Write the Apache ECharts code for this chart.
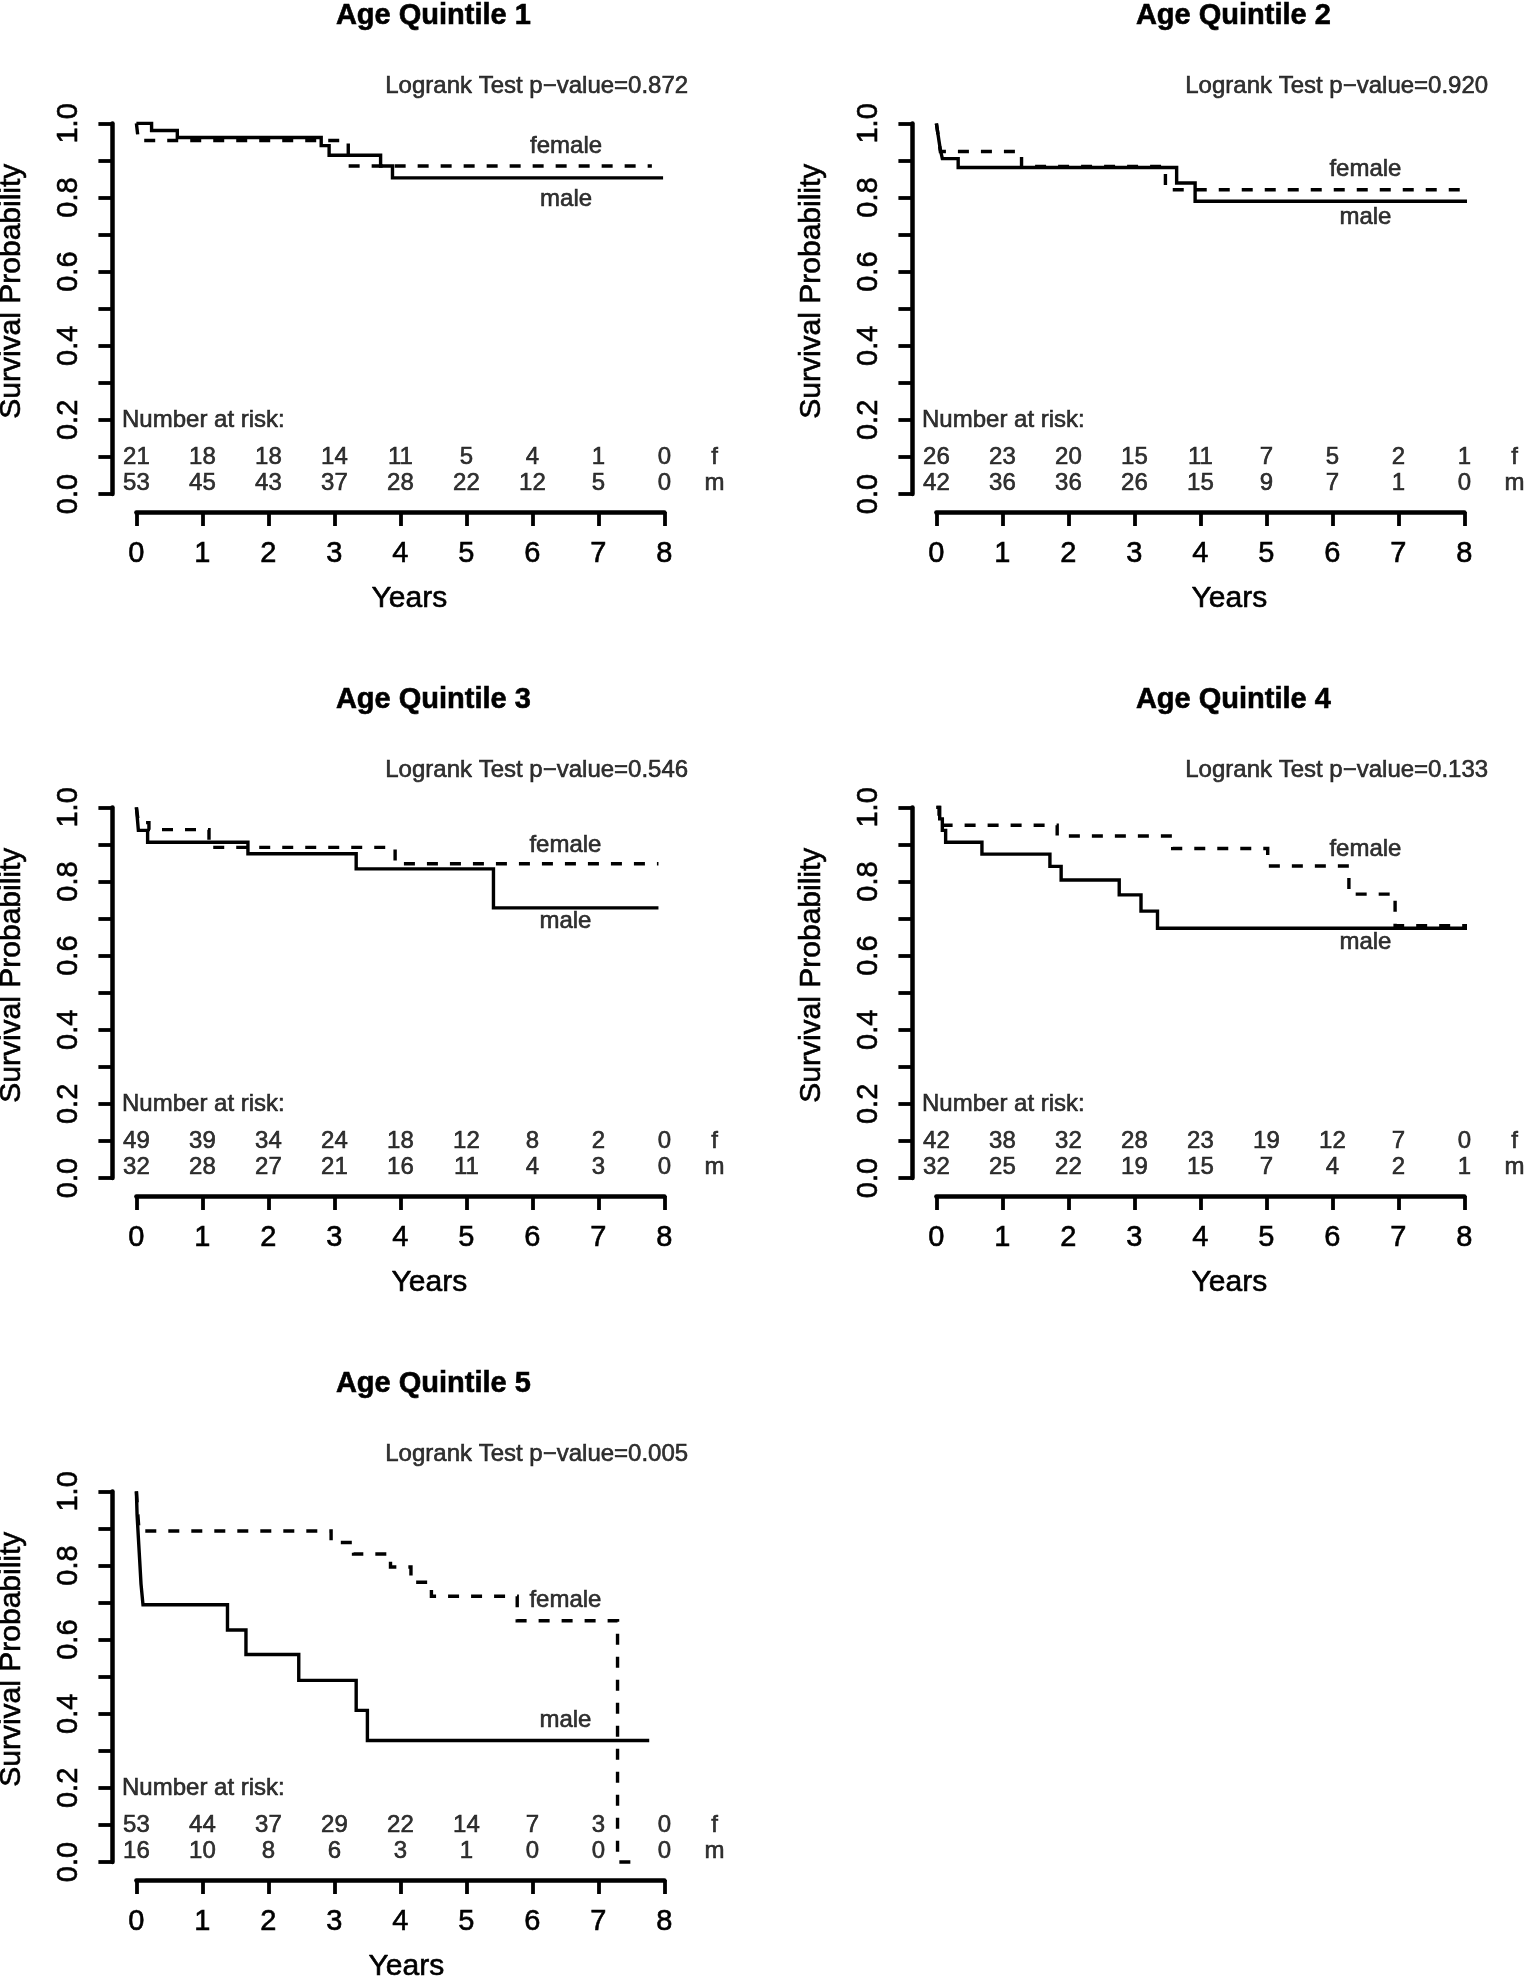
<!DOCTYPE html>
<html>
<head>
<meta charset="utf-8">
<script src="https://cdn.jsdelivr.net/npm/echarts@6/dist/echarts.min.js"></script>
<style>
html,body{margin:0;padding:0;background:#fff;}
#c{width:1524px;height:1978px;}
</style>
</head>
<body>
<div id="c"></div>
<script>
// ---------------- data ----------------
const years = [0, 1, 2, 3, 4, 5, 6, 7, 8];
const titles = ['Age Quintile 1', 'Age Quintile 2', 'Age Quintile 3', 'Age Quintile 4', 'Age Quintile 5'];
const pValues = ['0.872', '0.920', '0.546', '0.133', '0.005'];

// Kaplan-Meier steps: [time (years), survival probability]
const q1Male   = [[0,1],[0.23,0.981],[0.62,0.962],[2.80,0.940],[2.92,0.914],[3.70,0.885],[3.88,0.853],[7.98,0.853]];
const q1Female = [[0,1],[0.03,0.954],[3.21,0.885],[7.81,0.885]];
const q2Male   = [[0,1],[0.02,0.976],[0.04,0.952],[0.06,0.929],[0.09,0.905],[0.33,0.881],[3.64,0.839],[3.92,0.790],[8.29,0.790]];
const q2Female = [[0,1],[0.03,0.962],[0.06,0.924],[1.29,0.884],[3.47,0.821],[8.25,0.821]];
const q3Male   = [[0,1],[0.03,0.938],[0.17,0.906],[1.69,0.875],[3.33,0.834],[5.41,0.729],[7.91,0.729]];
const q3Female = [[0,1],[0.03,0.959],[0.19,0.940],[1.10,0.892],[3.92,0.848],[7.91,0.848]];
const q4Male   = [[0,1],[0.05,0.969],[0.09,0.938],[0.14,0.906],[0.69,0.874],[1.72,0.841],[1.89,0.804],[2.77,0.764],[3.10,0.720],[3.35,0.674],[8.32,0.674]];
const q4Female = [[0,1],[0.04,0.976],[0.10,0.952],[1.83,0.923],[3.58,0.889],[5.02,0.842],[6.25,0.766],[6.95,0.681],[8.32,0.681]];
const q5Male   = [[0,1],[0.01,0.938],[0.03,0.875],[0.05,0.813],[0.07,0.750],[0.10,0.694],[1.38,0.626],[1.66,0.560],[2.46,0.490],[3.33,0.409],[3.50,0.328],[7.77,0.328]];
const q5Female = [[0,1],[0.02,0.943],[0.04,0.893],[2.95,0.862],[3.29,0.831],[3.85,0.796],[4.16,0.755],[4.47,0.717],[5.77,0.651],[7.29,0],[7.56,0]];

// Number at risk at years 0..8
const q1RiskF = [21,18,18,14,11,5,4,1,0];
const q1RiskM = [53,45,43,37,28,22,12,5,0];
const q2RiskF = [26,23,20,15,11,7,5,2,1];
const q2RiskM = [42,36,36,26,15,9,7,1,0];
const q3RiskF = [49,39,34,24,18,12,8,2,0];
const q3RiskM = [32,28,27,21,16,11,4,3,0];
const q4RiskF = [42,38,32,28,23,19,12,7,0];
const q4RiskM = [32,25,22,19,15,7,4,2,1];
const q5RiskF = [53,44,37,29,22,14,7,3,0];
const q5RiskM = [16,10,8,6,3,1,0,0,0];

const yTicks = [0, 0.2, 0.4, 0.6, 0.8, 1.0];

// ---------------- layout / style ----------------
const FONT = "'Liberation Sans', Arial, Helvetica, sans-serif";
const G = { left: 136.4, top: 123.4, dx: 800, dy: 684, w: 528, h: 370.6 };
// label anchor positions in data coordinates (layout only)
const annot = [
  { fem: [6.51, 0.939], mal: [6.51, 0.794], yearsShift: 9 },
  { fem: [6.50, 0.877], mal: [6.50, 0.747], yearsShift: 29 },
  { fem: [6.50, 0.898], mal: [6.50, 0.693], yearsShift: 29 },
  { fem: [6.50, 0.887], mal: [6.50, 0.635], yearsShift: 29 },
  { fem: [6.50, 0.706], mal: [6.50, 0.382], yearsShift: 6 }
];
const panels = [
  { male: q1Male, female: q1Female, riskF: q1RiskF, riskM: q1RiskM },
  { male: q2Male, female: q2Female, riskF: q2RiskF, riskM: q2RiskM },
  { male: q3Male, female: q3Female, riskF: q3RiskF, riskM: q3RiskM },
  { male: q4Male, female: q4Female, riskF: q4RiskF, riskM: q4RiskM },
  { male: q5Male, female: q5Female, riskF: q5RiskF, riskM: q5RiskM }
];

const BLACK = '#000';
const TB = { textBorderColor: BLACK, textBorderWidth: 0.6 };
const axisLineStyle = { color: BLACK, width: 4.5 };
const tickStyle = { color: BLACK, width: 3.8 };

const grid = [], xAxis = [], yAxis = [], title = [], series = [];
panels.forEach((p, i) => {
  const col = i % 2, row = Math.floor(i / 2);
  const left = G.left + col * G.dx, top = G.top + row * G.dy;
  grid.push({ left: left, top: top, width: G.w, height: G.h, containLabel: false, outerBoundsMode: 'none' });
  title.push({
    text: titles[i], left: left + 4.5 * G.w / 8, top: top - 107.4,
    textAlign: 'center', textVerticalAlign: 'middle', padding: 0,
    textStyle: Object.assign({ fontFamily: FONT, fontSize: 29, fontWeight: 'bold', color: BLACK }, TB)
  });
  xAxis.push({
    gridIndex: i, type: 'value', min: 0, max: 8, interval: 1, offset: 18,
    axisLine: { show: true, onZero: false, lineStyle: axisLineStyle },
    axisTick: { show: true, length: 14, lineStyle: tickStyle },
    axisLabel: Object.assign({ show: true, margin: 27, color: BLACK, fontSize: 29, fontFamily: FONT, showMinLabel: true, showMaxLabel: true }, TB),
    splitLine: { show: false },
    name: 'Years', nameLocation: 'middle', nameGap: 72, nameMoveOverlap: false,
    nameTextStyle: Object.assign({ fontSize: 30, fontFamily: FONT, color: BLACK, padding: [0, 0, 0, 2 * annot[i].yearsShift] }, TB)
  });
  yAxis.push({
    gridIndex: i, type: 'value', min: 0, max: 1, interval: 0.2, offset: 24,
    axisLine: { show: true, onZero: false, lineStyle: axisLineStyle },
    axisTick: { show: true, length: 14, lineStyle: tickStyle },
    minorTick: { show: true, splitNumber: 2, length: 14, lineStyle: tickStyle },
    minorSplitLine: { show: false },
    axisLabel: Object.assign({ show: true, rotate: 90, margin: 29, color: BLACK, fontSize: 29, fontFamily: FONT,
      showMinLabel: true, showMaxLabel: true,
      formatter: v => (yTicks.some(t => Math.abs(t - v) < 1e-6) ? v.toFixed(1) : '') }, TB),
    splitLine: { show: false },
    name: 'Survival Probability', nameLocation: 'middle', nameRotate: 90, nameGap: 86, nameMoveOverlap: false,
    nameTextStyle: Object.assign({ fontSize: 30, fontFamily: FONT, color: BLACK, padding: [0, 0, 0, 35] }, TB)
  });

  series.push({
    type: 'line', name: 'male', xAxisIndex: i, yAxisIndex: i, data: p.male, step: 'end',
    symbol: 'none', showSymbol: false, clip: false, silent: true, z: 3,
    lineStyle: { color: BLACK, width: 3.4, type: 'solid', cap: 'butt', join: 'miter' }
  });
  series.push({
    type: 'line', name: 'female', xAxisIndex: i, yAxisIndex: i, data: p.female, step: 'end',
    symbol: 'none', showSymbol: false, clip: false, silent: true, z: 3,
    lineStyle: { color: BLACK, width: 3.4, type: [11, 12], cap: 'butt', join: 'miter' }
  });

  const riskData = years.map((yr, j) => ({ value: [yr, 0.1, p.riskF[j]] }))
    .concat(years.map((yr, j) => ({ value: [yr, 0.03, p.riskM[j]] })));
  series.push({
    type: 'scatter', xAxisIndex: i, yAxisIndex: i, symbolSize: 1, clip: false, silent: true,
    itemStyle: { color: 'rgba(0,0,0,0)' },
    data: riskData,
    label: Object.assign({ show: true, position: 'inside', formatter: d => String(d.value[2]),
      color: BLACK, fontSize: 24, fontFamily: FONT, align: 'center', verticalAlign: 'middle' }, TB)
  });

  const a = annot[i];
  series.push({
    type: 'scatter', xAxisIndex: i, yAxisIndex: i, symbolSize: 1, clip: false, silent: true,
    itemStyle: { color: 'rgba(0,0,0,0)' },
    data: [
      { name: 'Number at risk:', value: [-0.218, 0.2], label: { align: 'left' } },
      { name: 'f', value: [8.76, 0.1] },
      { name: 'm', value: [8.76, 0.03] },
      { name: 'female', value: a.fem },
      { name: 'male', value: a.mal },
      { name: 'Logrank Test p\u2212value=' + pValues[i], value: [8.36, 1.099], label: { align: 'right' } }
    ],
    label: Object.assign({ show: true, position: 'inside', formatter: '{b}', color: BLACK, fontSize: 24, fontFamily: FONT,
      align: 'center', verticalAlign: 'middle' }, TB)
  });
});

const chart = echarts.init(document.getElementById('c'), null, { renderer: 'canvas' });
chart.setOption({
  animation: false,
  backgroundColor: '#fff',
  title: title,
  grid: grid,
  xAxis: xAxis,
  yAxis: yAxis,
  series: series
});
</script>
</body>
</html>
